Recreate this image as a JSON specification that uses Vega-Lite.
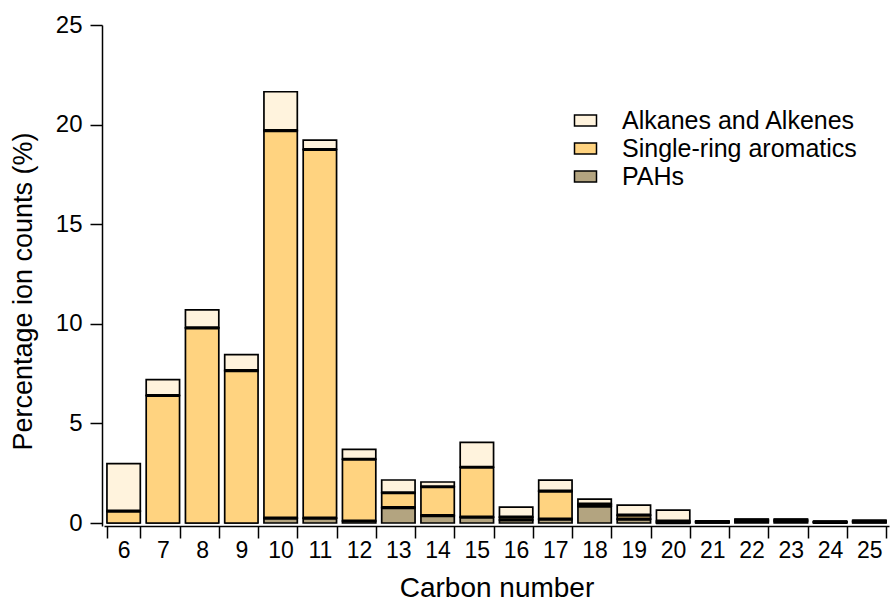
{
  "$schema": "https://vega.github.io/schema/vega-lite/v6.json",
  "width": 785,
  "height": 501,
  "autosize": "none",
  "padding": {"left": 104, "top": 25, "right": 2, "bottom": 77},
  "background": "white",
  "config": {
    "view": {"stroke": null},
    "font": "Liberation Sans",
    "axis": {
      "domainColor": "black",
      "domainWidth": 1.5,
      "tickColor": "black",
      "tickWidth": 1.5,
      "labelColor": "black",
      "titleColor": "black",
      "labelFont": "Liberation Sans",
      "titleFont": "Liberation Sans",
      "titleFontWeight": "normal",
      "grid": false
    }
  },
  "data": {
    "values": [
      {"carbon": 6, "type": "PAHs", "value": 0},
      {"carbon": 6, "type": "Single-ring aromatics", "value": 0.6},
      {"carbon": 6, "type": "Alkanes and Alkenes", "value": 2.38},
      {"carbon": 7, "type": "PAHs", "value": 0},
      {"carbon": 7, "type": "Single-ring aromatics", "value": 6.4},
      {"carbon": 7, "type": "Alkanes and Alkenes", "value": 0.8},
      {"carbon": 8, "type": "PAHs", "value": 0},
      {"carbon": 8, "type": "Single-ring aromatics", "value": 9.8},
      {"carbon": 8, "type": "Alkanes and Alkenes", "value": 0.9},
      {"carbon": 9, "type": "PAHs", "value": 0},
      {"carbon": 9, "type": "Single-ring aromatics", "value": 7.65},
      {"carbon": 9, "type": "Alkanes and Alkenes", "value": 0.8},
      {"carbon": 10, "type": "PAHs", "value": 0.25},
      {"carbon": 10, "type": "Single-ring aromatics", "value": 19.45},
      {"carbon": 10, "type": "Alkanes and Alkenes", "value": 1.95},
      {"carbon": 11, "type": "PAHs", "value": 0.25},
      {"carbon": 11, "type": "Single-ring aromatics", "value": 18.5},
      {"carbon": 11, "type": "Alkanes and Alkenes", "value": 0.47},
      {"carbon": 12, "type": "PAHs", "value": 0.1},
      {"carbon": 12, "type": "Single-ring aromatics", "value": 3.1},
      {"carbon": 12, "type": "Alkanes and Alkenes", "value": 0.5},
      {"carbon": 13, "type": "PAHs", "value": 0.77},
      {"carbon": 13, "type": "Single-ring aromatics", "value": 0.75},
      {"carbon": 13, "type": "Alkanes and Alkenes", "value": 0.64},
      {"carbon": 14, "type": "PAHs", "value": 0.37},
      {"carbon": 14, "type": "Single-ring aromatics", "value": 1.45},
      {"carbon": 14, "type": "Alkanes and Alkenes", "value": 0.24},
      {"carbon": 15, "type": "PAHs", "value": 0.3},
      {"carbon": 15, "type": "Single-ring aromatics", "value": 2.5},
      {"carbon": 15, "type": "Alkanes and Alkenes", "value": 1.25},
      {"carbon": 16, "type": "PAHs", "value": 0.15},
      {"carbon": 16, "type": "Single-ring aromatics", "value": 0.15},
      {"carbon": 16, "type": "Alkanes and Alkenes", "value": 0.5},
      {"carbon": 17, "type": "PAHs", "value": 0.2},
      {"carbon": 17, "type": "Single-ring aromatics", "value": 1.4},
      {"carbon": 17, "type": "Alkanes and Alkenes", "value": 0.55},
      {"carbon": 18, "type": "PAHs", "value": 0.85},
      {"carbon": 18, "type": "Single-ring aromatics", "value": 0.1},
      {"carbon": 18, "type": "Alkanes and Alkenes", "value": 0.25},
      {"carbon": 19, "type": "PAHs", "value": 0.2},
      {"carbon": 19, "type": "Single-ring aromatics", "value": 0.2},
      {"carbon": 19, "type": "Alkanes and Alkenes", "value": 0.5},
      {"carbon": 20, "type": "PAHs", "value": 0.02},
      {"carbon": 20, "type": "Single-ring aromatics", "value": 0.08},
      {"carbon": 20, "type": "Alkanes and Alkenes", "value": 0.55},
      {"carbon": 21, "type": "PAHs", "value": 0.04},
      {"carbon": 21, "type": "Single-ring aromatics", "value": 0.03},
      {"carbon": 21, "type": "Alkanes and Alkenes", "value": 0.03},
      {"carbon": 22, "type": "PAHs", "value": 0.08},
      {"carbon": 22, "type": "Single-ring aromatics", "value": 0.07},
      {"carbon": 22, "type": "Alkanes and Alkenes", "value": 0.05},
      {"carbon": 23, "type": "PAHs", "value": 0.08},
      {"carbon": 23, "type": "Single-ring aromatics", "value": 0.07},
      {"carbon": 23, "type": "Alkanes and Alkenes", "value": 0.05},
      {"carbon": 24, "type": "PAHs", "value": 0.03},
      {"carbon": 24, "type": "Single-ring aromatics", "value": 0.03},
      {"carbon": 24, "type": "Alkanes and Alkenes", "value": 0.02},
      {"carbon": 25, "type": "PAHs", "value": 0.05},
      {"carbon": 25, "type": "Single-ring aromatics", "value": 0.04},
      {"carbon": 25, "type": "Alkanes and Alkenes", "value": 0.04}
    ]
  },
  "transform": [
    {"calculate": "indexof(['PAHs', 'Single-ring aromatics', 'Alkanes and Alkenes'], datum.type)", "as": "layer"},
    {"stack": "value", "groupby": ["carbon"], "sort": [{"field": "layer", "order": "ascending"}], "as": ["v0", "v1"]},
    {"joinaggregate": [{"op": "sum", "field": "value", "as": "total"}], "groupby": ["carbon"]}
  ],
  "encoding": {
    "x": {
      "field": "carbon",
      "type": "ordinal",
      "scale": {"paddingInner": 0.15, "paddingOuter": 0.075},
      "axis": {
        "title": "Carbon number",
        "titleFontSize": 28,
        "titlePadding": 12,
        "labelFontSize": 23,
        "labelAngle": 0,
        "labelPadding": 1,
        "tickBand": "extent",
        "tickSize": 12,
        "domainWidth": 1.5
      }
    }
  },
  "layer": [
    {
      "mark": {"type": "bar", "stroke": "black", "strokeWidth": 1.7, "strokeJoin": "miter"},
      "encoding": {
        "y": {
          "field": "v1",
          "type": "quantitative",
          "scale": {"domain": [-0.15, 25], "nice": false, "zero": false},
          "axis": {
            "title": "Percentage ion counts (%)",
            "titleFontSize": 27,
            "titlePadding": 18,
            "titleY": 266,
            "labelFontSize": 24,
            "labelPadding": 8,
            "values": [0, 5, 10, 15, 20, 25],
            "tickSize": 12,
            "offset": 2
          }
        },
        "y2": {"field": "v0"},
        "color": {
          "field": "type",
          "type": "nominal",
          "scale": {
            "domain": ["Alkanes and Alkenes", "Single-ring aromatics", "PAHs"],
            "range": ["#FFF3DD", "#FFD380", "#B3A480"]
          },
          "legend": {
            "title": null,
            "orient": "none",
            "legendX": 469,
            "legendY": 83,
            "labelFontSize": 25,
            "labelFont": "Liberation Sans",
            "labelColor": "black",
            "labelLimit": 400,
            "labelOffset": 24,
            "rowPadding": 2,
            "symbolType": "M-1,-0.5H1V0.5H-1Z",
            "symbolSize": 484,
            "symbolStrokeColor": "black",
            "symbolStrokeWidth": 1.5,
            "symbolOpacity": 1
          }
        }
      }
    },
    {
      "transform": [
        {"filter": "datum.value > 0 && datum.v1 < datum.total - 0.001"}
      ],
      "mark": {"type": "tick", "color": "black", "thickness": 3.2, "size": 34, "opacity": 1},
      "encoding": {
        "y": {"field": "v1", "type": "quantitative"}
      }
    }
  ]
}
